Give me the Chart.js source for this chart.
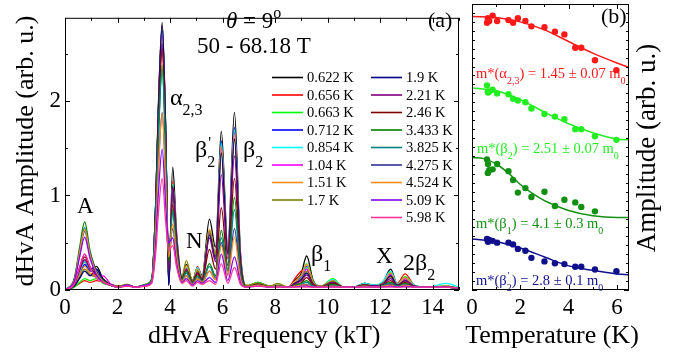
<!DOCTYPE html>
<html lang="en">
<head>
<meta charset="UTF-8">
<title>dHvA spectra and effective masses</title>
<script src="https://cdn.jsdelivr.net/npm/chart.js"></script>
<style>
  * { margin: 0; padding: 0; }
  body { width: 689px; height: 356px; background: #fff; position: relative; overflow: hidden; }
  #specChart { position: absolute; left: 0; top: 0; }
  #massChart { position: absolute; left: 460px; top: 0; }
</style>
</head>
<body>
<canvas id="specChart" width="462" height="356"></canvas>
<canvas id="massChart" width="229" height="356"></canvas>
<script>
const SERIF = '"Liberation Serif", "Times New Roman", serif';

// ---- (a) FFT spectra ----
const freqKT = [0, 0.35, 0.55, 0.75, 0.95, 1.2, 1.45, 1.75, 2.05, 2.35,
  2.7, 3.05, 3.3, 3.45, 3.55, 3.7, 3.83, 3.95, 4.1, 4.25,
  4.45, 4.62, 4.85, 5.05, 5.22, 5.5, 5.73, 5.95, 6.2, 6.45,
  6.68, 6.9, 7.35, 7.8, 8.1, 8.5, 8.75, 9.0, 9.2, 9.45,
  9.75, 10.2, 10.6, 11.0, 11.4, 11.8, 12.1, 12.4, 12.65, 12.95,
  13.3, 13.8, 14.5, 15];

const tempLabels = ['0.622 K', '0.656 K', '0.663 K', '0.712 K', '0.854 K', '1.04 K', '1.51 K', '1.7 K',
  '1.9 K', '2.21 K', '2.46 K', '3.433 K', '3.825 K', '4.275 K', '4.524 K', '5.09 K', '5.98 K'];
const lineColors = ['#000000', '#ff0000', '#00ff00', '#0000ff', '#00ffff', '#ff00ff', '#ff8c1a', '#808000',
  '#000080', '#800080', '#800000', '#008000', '#008080', '#333399', '#ff8c1a', '#8000ff', '#ff3399'];

const amp0622 = [0, .05, .18, .30, .22, .25, .12, .06, .04, .05,
  .03, .05, .09, .90, 1.90, 2.83, 1.75, .05, 1.30, .60,
  .14, .27, .10, .24, .15, .75, .45, 1.68, .45, 1.88,
  .40, .04, .08, .04, .05, .03, .10, .18, .36, .10,
  .04, .10, .03, .03, .07, .05, .08, .22, .06, .12,
  .05, .03, .04, .02];
const amp0656 = [0, .03, .07, .10, .08, .10, .08, .05, .03, .04,
  .03, .04, .08, .88, 1.86, 2.78, 1.72, .08, 1.15, .55,
  .12, .22, .08, .25, .12, .62, .38, 1.55, .40, 1.70,
  .35, .03, .07, .03, .04, .03, .12, .20, .22, .08,
  .03, .08, .03, .03, .05, .04, .07, .15, .07, .17,
  .05, .03, .03, .02];
const amp0663 = [0, .03, .08, .12, .10, .12, .07, .05, .03, .05,
  .03, .05, .12, .88, 1.85, 2.76, 1.70, .10, 1.12, .55,
  .13, .24, .09, .20, .13, .63, .38, 1.57, .42, 1.68,
  .36, .04, .08, .04, .05, .03, .09, .15, .28, .09,
  .04, .12, .03, .03, .06, .04, .08, .19, .06, .14,
  .05, .03, .04, .02];
const amp0712 = [0, .05, .16, .27, .20, .22, .10, .05, .03, .05,
  .03, .05, .09, .88, 1.84, 2.74, 1.70, .06, 1.10, .52,
  .12, .22, .08, .20, .12, .60, .36, 1.58, .40, 1.72,
  .36, .03, .07, .03, .04, .03, .08, .14, .25, .08,
  .04, .10, .03, .03, .07, .04, .07, .17, .05, .13,
  .04, .03, .03, .02];
const amp0854 = [0, .06, .18, .30, .22, .18, .09, .05, .03, .05,
  .03, .05, .10, .87, 1.82, 2.72, 1.69, .10, 1.12, .54,
  .13, .24, .09, .24, .13, .62, .37, 1.55, .41, 1.70,
  .35, .04, .07, .03, .05, .03, .08, .13, .24, .08,
  .04, .11, .03, .03, .07, .05, .09, .20, .06, .13,
  .05, .03, .07, .03];
const amp104 = [0, .07, .24, .38, .25, .14, .15, .06, .03, .05,
  .03, .05, .09, .86, 1.81, 2.70, 1.68, .15, 1.08, .52,
  .13, .22, .09, .20, .12, .60, .35, 1.50, .40, 1.66,
  .34, .03, .07, .03, .04, .03, .08, .12, .22, .07,
  .04, .09, .03, .03, .05, .04, .07, .16, .05, .12,
  .04, .03, .03, .02];
const amp151 = [0, .05, .15, .25, .18, .15, .09, .05, .04, .06,
  .03, .05, .10, .85, 1.78, 2.65, 1.65, .12, 1.10, .53,
  .13, .26, .09, .22, .12, .64, .38, 1.52, .40, 1.65,
  .34, .04, .07, .04, .05, .03, .09, .16, .27, .08,
  .04, .10, .03, .03, .06, .04, .07, .18, .05, .13,
  .04, .03, .04, .02];
const amp17 = [0, .05, .13, .22, .16, .14, .09, .05, .04, .06,
  .03, .05, .09, .84, 1.76, 2.62, 1.63, .10, 1.05, .50,
  .14, .31, .10, .20, .12, .62, .36, 1.45, .38, 1.60,
  .33, .05, .07, .04, .07, .03, .07, .12, .20, .07,
  .04, .09, .03, .03, .06, .04, .07, .14, .05, .10,
  .04, .03, .03, .02];
const amp19 = [0, .04, .12, .20, .15, .22, .10, .05, .03, .05,
  .03, .05, .09, .90, 1.88, 2.80, 1.74, .05, 1.10, .52,
  .12, .20, .08, .18, .11, .58, .33, 1.45, .38, 1.60,
  .32, .03, .06, .03, .04, .03, .07, .11, .18, .06,
  .03, .08, .03, .03, .05, .04, .06, .15, .05, .10,
  .04, .03, .03, .02];
const amp221 = [0, .06, .20, .32, .22, .16, .10, .05, .03, .05,
  .03, .05, .09, .83, 1.74, 2.60, 1.61, .20, 1.08, .52,
  .12, .22, .08, .18, .11, .55, .30, 1.22, .33, 1.42,
  .28, .03, .06, .03, .04, .03, .06, .10, .16, .06,
  .03, .08, .03, .03, .05, .04, .06, .12, .04, .10,
  .04, .03, .03, .02];
const amp246 = [0, .07, .22, .35, .24, .16, .10, .05, .03, .05,
  .03, .05, .09, .82, 1.71, 2.55, 1.58, .30, .90, .44,
  .11, .20, .08, .17, .10, .43, .22, .87, .26, 1.18,
  .24, .03, .06, .03, .04, .03, .05, .08, .13, .05,
  .03, .07, .03, .03, .05, .03, .05, .10, .04, .08,
  .03, .03, .03, .02];
const amp3433 = [0, .12, .44, .72, .42, .20, .10, .05, .03, .05,
  .03, .06, .12, .76, 1.59, 2.38, 1.48, .30, .85, .42,
  .11, .20, .07, .15, .09, .28, .15, .63, .22, .98,
  .20, .03, .05, .03, .04, .03, .05, .07, .10, .04,
  .03, .06, .03, .03, .04, .03, .05, .08, .04, .07,
  .03, .03, .03, .02];
const amp3825 = [0, .11, .40, .66, .40, .18, .09, .05, .03, .05,
  .03, .05, .10, .75, 1.56, 2.33, 1.45, .35, .82, .40,
  .10, .18, .07, .14, .09, .25, .13, .55, .20, .85,
  .18, .03, .05, .03, .04, .03, .04, .06, .08, .04,
  .03, .05, .03, .03, .04, .03, .05, .07, .04, .06,
  .03, .03, .03, .02];
const amp4275 = [0, .10, .38, .62, .38, .20, .09, .05, .03, .05,
  .03, .05, .09, .60, 1.26, 1.88, 1.17, .40, .65, .33,
  .09, .15, .06, .12, .08, .20, .11, .50, .16, .65,
  .14, .03, .05, .03, .04, .03, .04, .05, .06, .03,
  .03, .04, .03, .03, .04, .03, .04, .06, .03, .05,
  .03, .03, .03, .02];
const amp4524 = [0, .10, .39, .64, .38, .18, .09, .05, .03, .05,
  .03, .05, .09, .60, 1.25, 1.87, 1.16, .35, .70, .35,
  .09, .15, .06, .12, .08, .20, .11, .47, .15, .56,
  .12, .03, .05, .03, .04, .03, .04, .05, .05, .03,
  .03, .04, .03, .03, .04, .03, .04, .05, .03, .05,
  .03, .03, .03, .02];
const amp509 = [0, .09, .34, .56, .34, .16, .08, .05, .03, .05,
  .03, .05, .08, .48, 1.00, 1.49, .92, .50, .55, .28,
  .08, .12, .05, .10, .07, .13, .08, .38, .10, .35,
  .08, .03, .04, .03, .03, .03, .03, .04, .04, .03,
  .03, .03, .03, .03, .03, .03, .03, .04, .03, .04,
  .03, .03, .03, .02];
const amp598 = [0, .06, .23, .38, .24, .12, .08, .05, .03, .04,
  .03, .04, .07, .38, .79, 1.18, .73, .42, .47, .24,
  .07, .10, .04, .08, .06, .10, .06, .28, .07, .24,
  .06, .03, .04, .03, .03, .03, .03, .03, .03, .03,
  .03, .03, .03, .03, .03, .03, .03, .03, .03, .03,
  .03, .03, .03, .02];

const spectra = [amp0622, amp0656, amp0663, amp0712, amp0854, amp104, amp151, amp17,
  amp19, amp221, amp246, amp3433, amp3825, amp4275, amp4524, amp509, amp598];

const freqTicks = [0, 2, 4, 6, 8, 10, 12, 14];
const ampTicks = [0, 1, 2];

// ---- (b) amplitude vs temperature ----
const tempPts = [0.622, 0.656, 0.663, 0.712, 0.854, 1.04, 1.51, 1.7, 1.9, 2.21, 2.46, 3.0,
  3.433, 3.825, 4.275, 4.524, 5.09, 5.98];
const alphaAmp = [2.99, 3.04, 3.01, 3.01, 3.07, 3.01, 3.02, 2.99, 3.04, 3.01, 2.95, 2.94,
  2.89, 2.86, 2.71, 2.71, 2.57, 2.46];
const beta2Amp = [2.29, 2.22, 2.21, 2.22, 2.24, 2.20, 2.19, 2.14, 2.12, 2.10, 2.03, 1.97,
  1.94, 1.91, 1.80, 1.80, 1.72, 1.68];
const beta1Amp = [1.46, 1.31, 1.41, 1.34, 1.35, 1.41, 1.33, 1.23, 1.09, 1.14, 1.04, 1.10,
  0.94, 1.01, 0.98, 0.93, 0.88, null];
const beta2pAmp = [0.57, 0.55, 0.54, 0.56, 0.55, 0.53, 0.53, 0.51, 0.46, 0.44, 0.36, 0.32,
  0.30, 0.29, 0.26, 0.26, 0.23, 0.21];

const fitT = [0, 1, 2, 3, 4, 5, 6, 6.5];
const alphaFit = [3.06, 3.05, 3.00, 2.91, 2.78, 2.65, 2.54, 2.49];
const beta2Fit = [2.26, 2.23, 2.13, 1.99, 1.86, 1.76, 1.69, 1.68];
const beta2pFit = [0.57, 0.54, 0.47, 0.37, 0.27, 0.22, 0.18, 0.17];
const beta1FitT = [0, 0.5, 1, 1.5, 2, 2.5, 3, 3.5, 4, 5, 6, 6.5];
const beta1Fit = [1.48, 1.47, 1.41, 1.31, 1.18, 1.08, 1.00, 0.94, 0.89, 0.83, 0.81, 0.81];

const tempTicks = [0, 2, 4, 6];

// draws text runs; kinds: '' normal, 'sub', 'sup', 'ps' (prime over subscript)
function drawRich(ctx, x, y, parts, size, color) {
  const small = Math.round(size * 0.68);
  ctx.save();
  ctx.fillStyle = color;
  ctx.textAlign = 'left';
  ctx.textBaseline = 'alphabetic';
  let cx = x;
  for (const [txt, kind, style] of parts) {
    if (!kind) {
      ctx.font = (style || '') + ' ' + size + 'px ' + SERIF;
      ctx.fillText(txt, cx, y);
      cx += ctx.measureText(txt).width;
    } else if (kind === 'sub') {
      ctx.font = small + 'px ' + SERIF;
      ctx.fillText(txt, cx, y + size * 0.42);
      cx += ctx.measureText(txt).width;
    } else if (kind === 'sup') {
      ctx.font = small + 'px ' + SERIF;
      ctx.fillText(txt, cx, y - size * 0.42);
      cx += ctx.measureText(txt).width;
    } else {
      const [top, bot] = txt.split('|');
      ctx.font = small + 'px ' + SERIF;
      ctx.fillText(top, cx + 1, y - size * 0.38);
      ctx.fillText(bot, cx, y + size * 0.42);
      cx += Math.max(ctx.measureText(top).width, ctx.measureText(bot).width);
    }
  }
  ctx.restore();
}

function drawRotated(ctx, text, x, y, size) {
  ctx.save();
  ctx.translate(x, y);
  ctx.rotate(-Math.PI / 2);
  ctx.font = size + 'px ' + SERIF;
  ctx.fillStyle = '#000';
  ctx.textAlign = 'center';
  ctx.textBaseline = 'alphabetic';
  ctx.fillText(text, 0, 0);
  ctx.restore();
}

// box round the plot area with inward ticks on all four sides
function frameTicks(xStep, xMajorEvery, yStep, yMajorEvery) {
  return {
    id: 'frameTicks',
    afterDraw(chart) {
      const {ctx, chartArea: a} = chart;
      const xs = chart.scales.x, ys = chart.scales.y;
      ctx.save();
      ctx.strokeStyle = '#000';
      ctx.lineWidth = 1;
      ctx.strokeRect(a.left + 0.5, a.top + 0.5, a.right - a.left - 1, a.bottom - a.top - 1);
      ctx.beginPath();
      for (let k = 0; k * xStep <= xs.max + 1e-9; k++) {
        const len = k % xMajorEvery === 0 ? 5 : 3;
        const px = Math.round(xs.getPixelForValue(k * xStep)) + 0.5;
        ctx.moveTo(px, a.bottom); ctx.lineTo(px, a.bottom - len);
        ctx.moveTo(px, a.top); ctx.lineTo(px, a.top + len);
      }
      for (let k = 0; k * yStep <= ys.max + 1e-9; k++) {
        const len = k % yMajorEvery === 0 ? 5 : 3;
        const py = Math.round(ys.getPixelForValue(k * yStep)) + 0.5;
        ctx.moveTo(a.left, py); ctx.lineTo(a.left + len, py);
        ctx.moveTo(a.right, py); ctx.lineTo(a.right - len, py);
      }
      ctx.stroke();
      ctx.restore();
    }
  };
}

const tickFont = {family: SERIF, size: 23};

// ---- chart (a) ----
const specLabels = {
  id: 'specLabels',
  afterDraw(chart) {
    const ctx = chart.ctx;
    drawRich(ctx, 226, 28, [['\u03B8', '', 'italic'], [' = 9', ''], ['o', 'sup']], 23, '#000');
    drawRich(ctx, 197, 53, [['50 - 68.18 T', '']], 23, '#000');
    drawRich(ctx, 428, 27, [['(a)', '']], 22, '#000');
    drawRich(ctx, 77, 213, [['A', '']], 23, '#000');
    drawRich(ctx, 170, 105, [['\u03B1', ''], ['2,3', 'sub']], 24, '#000');
    drawRich(ctx, 195, 157, [['\u03B2', ''], ["'|2", 'ps']], 24, '#000');
    drawRich(ctx, 243, 157, [['\u03B2', ''], ['2', 'sub']], 24, '#000');
    drawRich(ctx, 186, 248, [['N', '']], 23, '#000');
    drawRich(ctx, 311, 261, [['\u03B2', ''], ['1', 'sub']], 24, '#000');
    drawRich(ctx, 376, 263, [['X', '']], 23, '#000');
    drawRich(ctx, 403, 270, [['2\u03B2', ''], ['2', 'sub']], 24, '#000');

    // legend, two columns
    ctx.save();
    ctx.font = '14.5px ' + SERIF;
    ctx.textBaseline = 'middle';
    ctx.fillStyle = '#000';
    tempLabels.forEach((lab, i) => {
      const col = i < 8 ? 0 : 1;
      const row = i < 8 ? i : i - 8;
      const x0 = col ? 371 : 272;
      const y = 77.5 + row * 17.5;
      ctx.strokeStyle = lineColors[i];
      ctx.lineWidth = 1.6;
      ctx.beginPath();
      ctx.moveTo(x0, y); ctx.lineTo(x0 + 31, y);
      ctx.stroke();
      ctx.fillText(lab, x0 + 35, y + 1);
    });
    ctx.restore();

    drawRich(ctx, 148, 343, [['dHvA Frequency (kT)', '']], 26, '#000');
    drawRotated(ctx, 'dHvA Amplitude (arb. u.)', 33, 151, 26);
  }
};

new Chart(document.getElementById('specChart'), {
  type: 'line',
  data: {
    datasets: spectra.map((amps, i) => ({
      label: tempLabels[i],
      data: freqKT.map((f, j) => ({x: f, y: amps[j]})),
      borderColor: lineColors[i],
      borderWidth: 1.3,
      pointRadius: 0,
      fill: false,
      cubicInterpolationMode: 'monotone',
      order: spectra.length - i
    }))
  },
  options: {
    responsive: false,
    animation: false,
    events: [],
    layout: {padding: {left: 0, top: 2, right: 3, bottom: 0}},
    plugins: {legend: {display: false}, tooltip: {enabled: false}},
    scales: {
      x: {
        type: 'linear', min: 0, max: 15,
        grid: {display: false, drawTicks: false},
        border: {display: false},
        afterBuildTicks: s => { s.ticks = freqTicks.map(v => ({value: v})); },
        afterFit: s => { s.height = 66; },
        ticks: {font: tickFont, color: '#000', padding: 4, maxRotation: 0, autoSkip: false}
      },
      y: {
        type: 'linear', min: 0, max: 2.88,
        grid: {display: false, drawTicks: false},
        border: {display: false},
        afterBuildTicks: s => { s.ticks = ampTicks.map(v => ({value: v})); },
        afterFit: s => { s.width = 65; },
        ticks: {font: tickFont, color: '#000', padding: 4}
      }
    }
  },
  plugins: [frameTicks(1, 2, 0.5, 2), specLabels]
});

// ---- chart (b) ----
const massSeries = [
  {pts: alphaAmp, fx: fitT, fit: alphaFit, color: '#ff1a1a'},
  {pts: beta2Amp, fx: fitT, fit: beta2Fit, color: '#22ee22'},
  {pts: beta1Amp, fx: beta1FitT, fit: beta1Fit, color: '#139013'},
  {pts: beta2pAmp, fx: fitT, fit: beta2pFit, color: '#10108c'}
];

const massLabels = {
  id: 'massLabels',
  afterDraw(chart) {
    const ctx = chart.ctx;
    drawRich(ctx, 141, 23, [['(b)', '']], 22, '#000');
    drawRich(ctx, 16, 78, [['m*(\u03B1', ''], ['2,3', 'sub'], [') = 1.45 \u00B1 0.07 m', ''], ['0', 'sub']], 14.5, massSeries[0].color);
    drawRich(ctx, 17, 153, [['m*(\u03B2', ''], ['2', 'sub'], [') = 2.51 \u00B1 0.07 m', ''], ['0', 'sub']], 14.5, massSeries[1].color);
    drawRich(ctx, 16, 228, [['m*(\u03B2', ''], ['1', 'sub'], [') = 4.1 \u00B1 0.3 m', ''], ['0', 'sub']], 14.5, massSeries[2].color);
    drawRich(ctx, 16, 285, [['m*(\u03B2', ''], ["'|2", 'ps'], [') = 2.8 \u00B1 0.1 m', ''], ['0', 'sub']], 14.5, massSeries[3].color);
    ctx.save();
    ctx.font = '26px ' + SERIF;
    ctx.fillStyle = '#000';
    ctx.textAlign = 'center';
    ctx.fillText('Temperature (K)', 92, 343);
    ctx.restore();
    drawRotated(ctx, 'Amplitude (arb. u.)', 195, 148, 27);
  }
};

const massDatasets = [];
massSeries.forEach(s => {
  massDatasets.push({
    type: 'line',
    data: s.fx.map((t, j) => ({x: t, y: s.fit[j]})),
    borderColor: s.color,
    borderWidth: 1.5,
    pointRadius: 0,
    fill: false,
    cubicInterpolationMode: 'monotone'
  });
  massDatasets.push({
    type: 'scatter',
    data: tempPts.map((t, j) => ({x: t, y: s.pts[j]})).filter(p => p.y !== null),
    backgroundColor: s.color,
    borderWidth: 0,
    pointRadius: 3.2
  });
});

new Chart(document.getElementById('massChart'), {
  type: 'scatter',
  data: {datasets: massDatasets},
  options: {
    responsive: false,
    animation: false,
    events: [],
    layout: {padding: {left: 12, top: 2, right: 60, bottom: 0}},
    plugins: {legend: {display: false}, tooltip: {enabled: false}},
    scales: {
      x: {
        type: 'linear', min: 0, max: 6.5,
        grid: {display: false, drawTicks: false},
        border: {display: false},
        afterBuildTicks: s => { s.ticks = tempTicks.map(v => ({value: v})); },
        afterFit: s => { s.height = 66; },
        ticks: {font: tickFont, color: '#000', padding: 4, maxRotation: 0, autoSkip: false}
      },
      y: {
        type: 'linear', min: 0, max: 3.2,
        display: false
      }
    }
  },
  plugins: [frameTicks(1, 2, 0.1, 1000), massLabels]
});
</script>
</body>
</html>
